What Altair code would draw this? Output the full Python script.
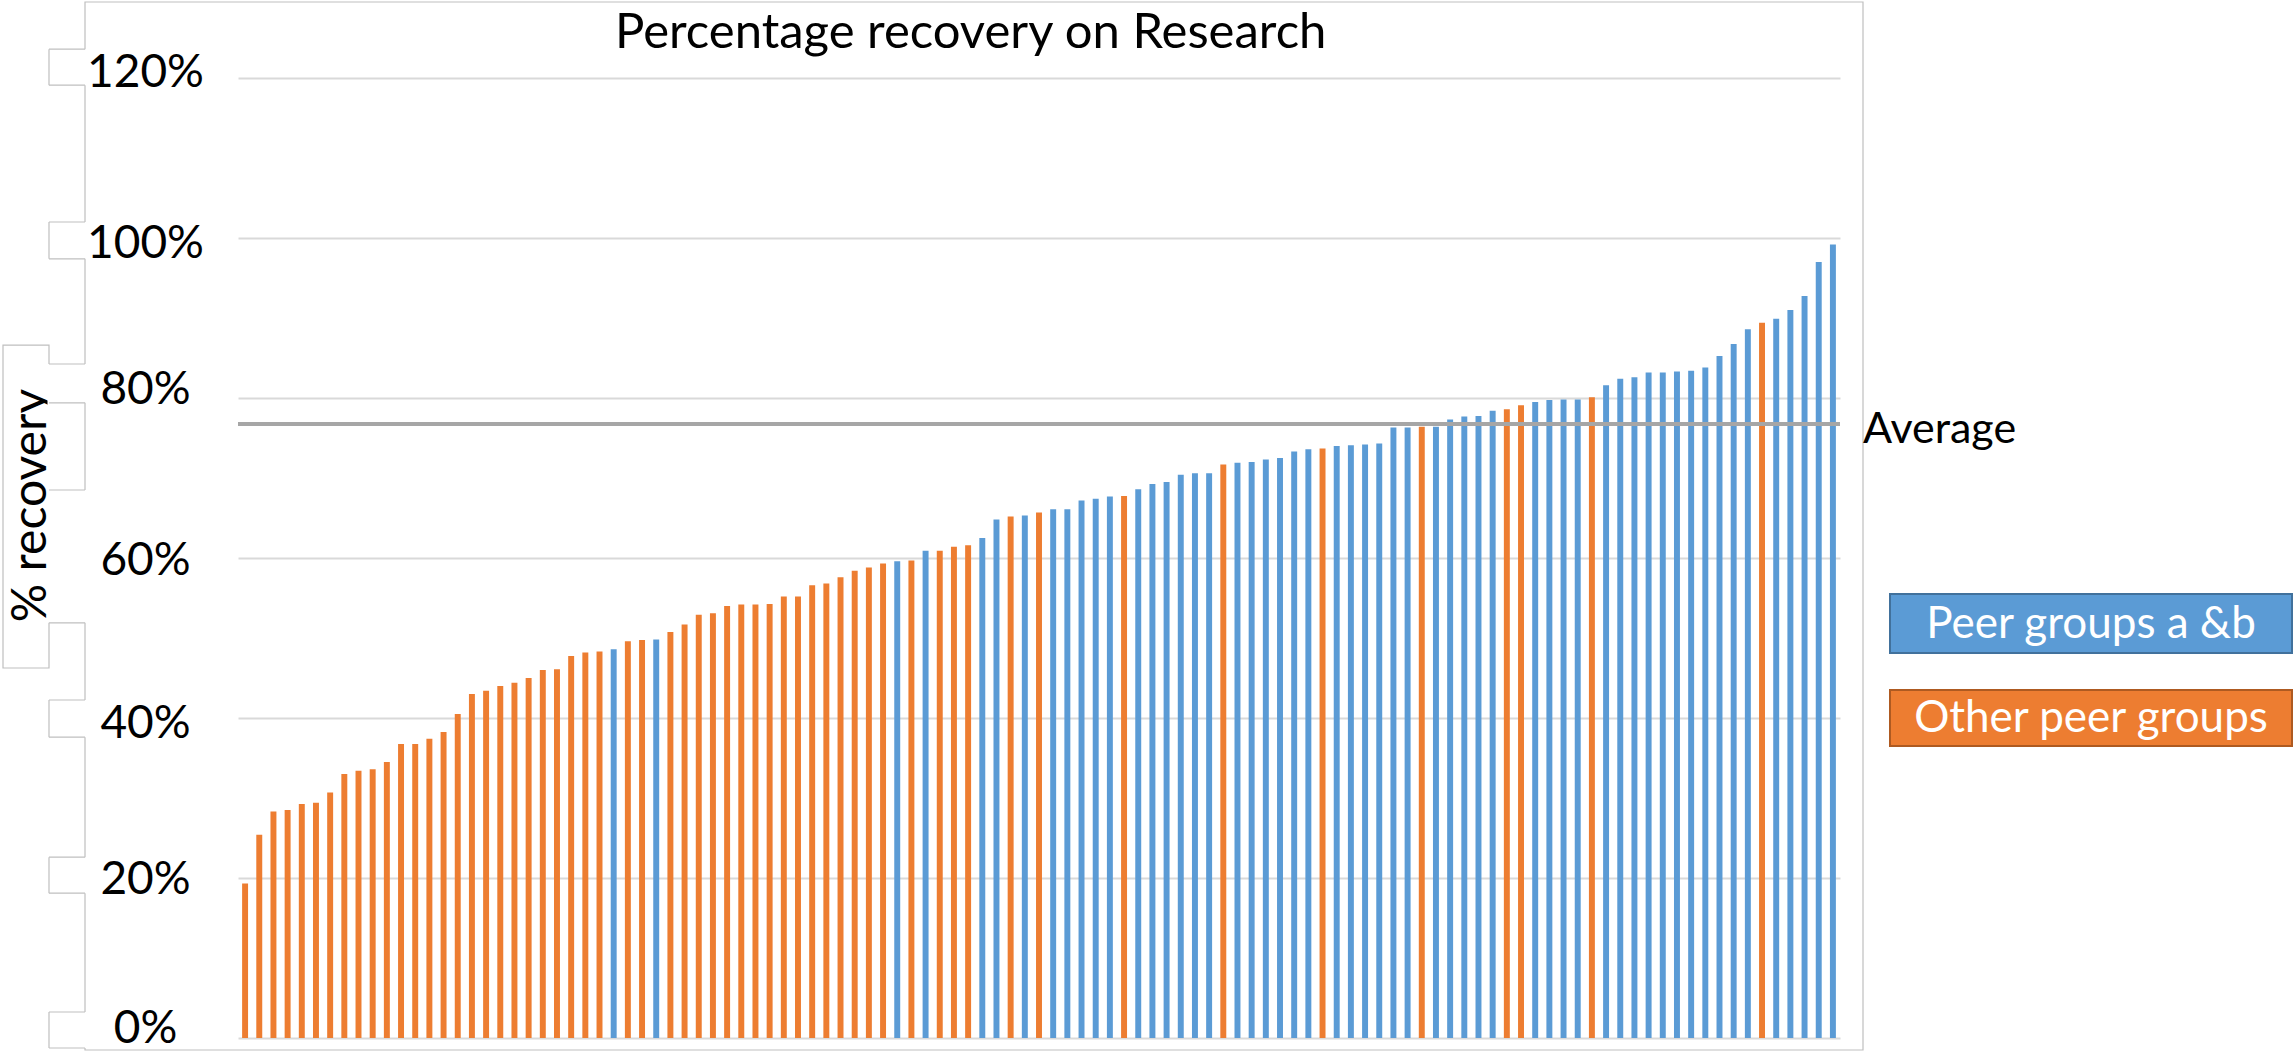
import altair as alt
import pandas as pd

TITLE = "Percentage recovery on Research"
Y_TITLE = "% recovery"
AVERAGE_LABEL = "Average"
GROUPS = ["Peer groups a &b", "Other peer groups"]
GROUP_FILL = ["#5B9BD5", "#ED7D31"]
GROUP_EDGE = ["#41719C", "#AE5A21"]
Y_TICKS = [0, 0.2, 0.4, 0.6, 0.8, 1.0, 1.2]

# Percentage recovery per institution, sorted from lowest to highest
RECOVERY = [
    0.193, 0.254, 0.283, 0.285, 0.2925, 0.294, 0.307, 0.330, 0.334, 0.336,
    0.345, 0.3675, 0.3675, 0.374, 0.3825, 0.405, 0.430, 0.434, 0.440, 0.444,
    0.450, 0.460, 0.461, 0.4775, 0.482, 0.483, 0.486, 0.496, 0.4975, 0.498,
    0.5075, 0.517, 0.529, 0.531, 0.540, 0.542, 0.542, 0.5425, 0.552, 0.552,
    0.566, 0.568, 0.576, 0.584, 0.588, 0.593, 0.596, 0.597, 0.609, 0.609,
    0.614, 0.616, 0.625, 0.648, 0.652, 0.653, 0.657, 0.661, 0.661, 0.672,
    0.674, 0.677, 0.6775, 0.686, 0.6925, 0.695, 0.704, 0.706, 0.706, 0.717,
    0.719, 0.720, 0.723, 0.725, 0.733, 0.736, 0.737, 0.740, 0.741, 0.742,
    0.743, 0.763, 0.763, 0.764, 0.764, 0.773, 0.777, 0.7775, 0.784, 0.786,
    0.791, 0.795, 0.7975, 0.798, 0.798, 0.801, 0.816, 0.824, 0.826, 0.832,
    0.832, 0.833, 0.834, 0.838, 0.8525, 0.8675, 0.886, 0.894, 0.899, 0.910,
    0.9275, 0.970, 0.992,
]

# Peer group of each bar: B = peer groups a & b, O = other peer groups
GROUP_CODE = (
    "OOOOOOOOOO"
    "OOOOOOOOOO"
    "OOOOOOBOOB"
    "OOOOOOOOOO"
    "OOOOOOBOBO"
    "OOBBOBOBBB"
    "BBOBBBBBBO"
    "BBBBBBOBBB"
    "BBBOBBBBBO"
    "OBBBBOBBBB"
    "BBBBBBBOBB"
    "BBB"
)

AVERAGE = 0.7675

# ---- layout (pixels) ----
PAGE_W, PAGE_H = 2295, 1052
LEFT, TOP = 238, 78
W, H = 1602, 960
FRAME = "#BFBFBF"
FONT = "Lato"

# small outlined boxes behind the y tick labels (in axis units: top, bottom, has left side)
LABEL_BOXES = [
    (1.236, 1.191, True),
    (1.020, 0.974, True),
    (0.8425, 0.794, False),
    (0.685, 0.519, False),
    (0.4225, 0.376, True),
    (0.226, 0.181, True),
    (0.0325, -0.0125, True),
]
TITLE_BOX = (0.866, 0.4625)
# per-label vertical nudges of the tick labels (pixels)
LABEL_NUDGE = [(1.2, -6), (1.0, 5), (0.8, -9), (0.6, 2), (0.4, 5), (0.2, 1), (0.0, -10)]

bars_df = pd.DataFrame({
    "rank": list(range(len(RECOVERY))),
    "recovery": RECOVERY,
    "group": [GROUPS[0] if c == "B" else GROUPS[1] for c in GROUP_CODE],
})

y_scale = alt.Scale(domain=[0, 1.2], nice=False, zero=False)

label_offset = {
    "condition": [
        {"test": f"abs(datum.value - {v}) < 0.01", "value": d} for v, d in LABEL_NUDGE
    ],
    "value": 0,
}

# one shared y axis; every layer carries the same definition so they merge cleanly
y_axis = alt.Axis(
    values=Y_TICKS, format=".0%", title=Y_TITLE,
    grid=True, gridColor="#D9D9D9", gridWidth=2,
    domain=False, ticks=False, tickSize=0,
    labelFont=FONT, labelFontSize=46, labelColor="#000000",
    labelAlign="center", labelBaseline="middle", labelPadding=93,
    labelOffset=label_offset,
    titleFont=FONT, titleFontSize=48, titleFontWeight="normal", titleColor="#000000",
    titleAngle=270, titleAlign="center", titleBaseline="alphabetic",
    titleX=-193, titleY=427,
)


def yq(field):
    return alt.Y(f"{field}:Q", scale=y_scale, axis=y_axis)


def px(v):
    return alt.value(v)


one = pd.DataFrame({"k": [0]})

bars = alt.Chart(bars_df).mark_bar().encode(
    x=alt.X("rank:O", axis=None, scale=alt.Scale(paddingInner=0.58, paddingOuter=0.29)),
    y=yq("recovery"),
    color=alt.Color("group:N", scale=alt.Scale(domain=GROUPS, range=GROUP_FILL), legend=None),
)

# outer frame of the chart
frame = alt.Chart(one).mark_rect(fillOpacity=0, stroke=FRAME, strokeWidth=1.2).encode(
    x=px(85 - LEFT), x2=px(1863 - LEFT), y=px(2 - TOP), y2=px(1050 - TOP)
)

# box around the y axis title
tbox_df = pd.DataFrame({"top": [TITLE_BOX[0]], "bottom": [TITLE_BOX[1]]})
title_box = alt.Chart(tbox_df).mark_rect(fillOpacity=0, stroke=FRAME, strokeWidth=1.2).encode(
    x=px(3 - LEFT), x2=px(49 - LEFT), y=yq("top"), y2="bottom:Q"
)
cover_df = pd.DataFrame({"top": [LABEL_BOXES[2][0]], "bottom": [LABEL_BOXES[3][1]]})
title_box_cover = alt.Chart(cover_df).mark_rect(fill="white").encode(
    x=px(47.5 - LEFT), x2=px(84 - LEFT), y=yq("top"), y2="bottom:Q"
)

boxes_df = pd.DataFrame({
    "top": [b[0] for b in LABEL_BOXES],
    "bottom": [b[1] for b in LABEL_BOXES],
    "side": [b[2] for b in LABEL_BOXES],
})
box_cover = alt.Chart(boxes_df).mark_rect(fill="white").encode(
    x=px(49 - LEFT), x2=px(86.5 - LEFT), y=yq("top"), y2="bottom:Q"
)
edges_df = pd.DataFrame({"edge": [b[0] for b in LABEL_BOXES] + [b[1] for b in LABEL_BOXES]})
box_edges = alt.Chart(edges_df).mark_rule(color=FRAME, strokeWidth=1.2).encode(
    x=px(49 - LEFT), x2=px(85 - LEFT), y=yq("edge")
)
box_sides = alt.Chart(boxes_df).transform_filter("datum.side").mark_rule(
    color=FRAME, strokeWidth=1.2
).encode(x=px(49 - LEFT), y=yq("top"), y2="bottom:Q")

avg_df = pd.DataFrame({"avg": [AVERAGE], "label": [AVERAGE_LABEL]})
avg_rule = alt.Chart(avg_df).mark_rule(color="#A6A6A6", strokeWidth=4).encode(y=yq("avg"))
avg_text = alt.Chart(avg_df).mark_text(
    align="left", baseline="alphabetic", font=FONT, fontSize=43, color="#000000", dy=19
).encode(x=px(1625), y=yq("avg"), text="label:N")

title = alt.Chart(pd.DataFrame({"t": [TITLE]})).mark_text(
    align="left", baseline="alphabetic", font=FONT, fontSize=49, color="#000000"
).encode(x=px(377), y=px(-30), text="t:N")

# hand-placed legend boxes at the right
LEGEND_TOPS = [516, 612]
LEGEND_BOTTOMS = [575, 668]
LEGEND_BASELINES = [560, 654]
legend_layers = []
for name, fill, edge, t, b, bl in zip(GROUPS, GROUP_FILL, GROUP_EDGE, LEGEND_TOPS, LEGEND_BOTTOMS, LEGEND_BASELINES):
    ldf = pd.DataFrame({"label": [name]})
    legend_layers.append(
        alt.Chart(ldf).mark_rect(fill=fill, stroke=edge, strokeWidth=2).encode(
            x=px(1652), x2=px(2054), y=px(t), y2=px(b)
        )
    )
    legend_layers.append(
        alt.Chart(ldf).mark_text(
            align="center", baseline="alphabetic", font=FONT, fontSize=44, color="white"
        ).encode(x=px(1853), y=px(bl), text="label:N")
    )

chart = alt.layer(
    bars, frame, title_box, title_box_cover, box_cover, box_edges, box_sides,
    avg_rule, avg_text, title, *legend_layers,
).properties(
    width=W, height=H,
    autosize=alt.AutoSizeParams(type="none"),
    padding={"left": LEFT, "top": TOP, "right": PAGE_W - LEFT - W, "bottom": PAGE_H - TOP - H},
    background="white",
).configure_view(stroke="transparent")

chart.save("out.html", embed_options={"renderer": "svg", "actions": False})
